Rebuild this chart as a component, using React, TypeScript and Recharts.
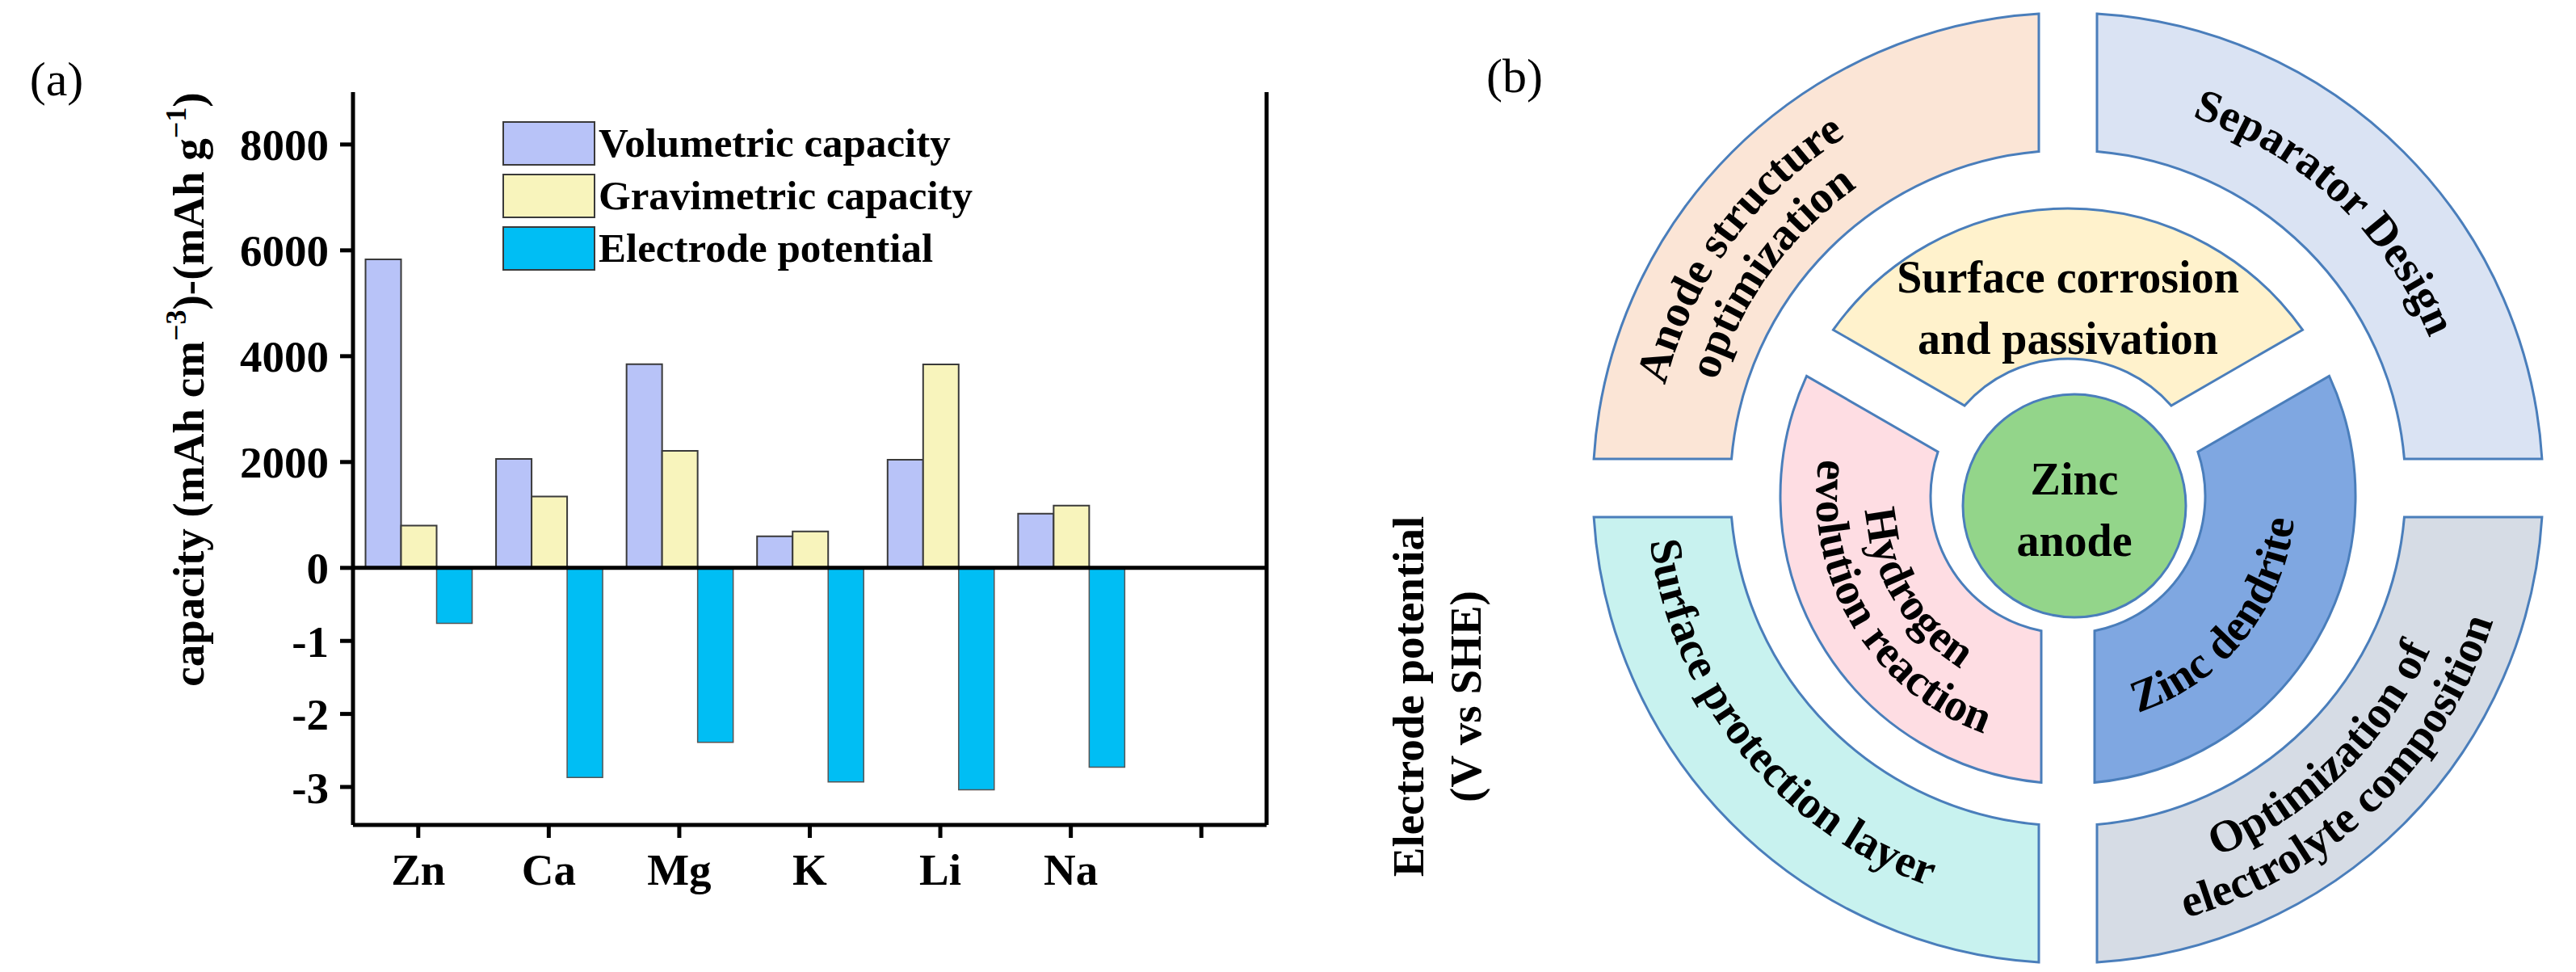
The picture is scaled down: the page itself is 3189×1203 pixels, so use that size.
import {
  Bar,
  BarChart,
  Cell,
  Customized,
  Legend,
  Pie,
  PieChart,
  ReferenceLine,
  XAxis,
  YAxis,
} from "recharts";

const SERIF = '"Liberation Serif", "Times New Roman", Times, serif';

// ---- (a) capacity / potential of metal anodes ----
const metals = ["Zn", "Ca", "Mg", "K", "Li", "Na", ""];
const volumetricCapacity = [5830, 2060, 3850, 595, 2045, 1025];
const gravimetricCapacity = [800, 1350, 2210, 690, 3845, 1175];
const electrodePotential = [-0.76, -2.87, -2.39, -2.93, -3.04, -2.73];
const capacityTicks = [8000, 6000, 4000, 2000, 0];
const potentialTicks = [-1, -2, -3];
const seriesNames = ["Volumetric capacity", "Gravimetric capacity", "Electrode potential"];

// potential bars share the capacity axis: 1 V is drawn as tall as this many mAh
const CAP_PER_VOLT = 1380;

const barData = metals.map((metal, i) => ({
  metal,
  vol: volumetricCapacity[i] ?? null,
  grav: gravimetricCapacity[i] ?? null,
  pot: electrodePotential[i] != null ? electrodePotential[i] * CAP_PER_VOLT : null,
}));

// ---- (b) zinc anode issues / strategies ----
const outerTopics = [
  ["Separator Design"],
  ["Anode structure", "optimization"],
  ["Surface protection layer"],
  ["Optimization of", "electrolyte composition"],
];
const outerShare = [1, 1, 1, 1];
const innerTopics = [
  ["Surface corrosion", "and passivation"],
  ["Hydrogen", "evolution reaction"],
  ["Zinc dendrite"],
];
const innerShare = [1, 1, 1];
const coreTopic = [["Zinc", "anode"]];

const outerData = outerTopics.map((lines, i) => ({ name: lines.join(" "), lines, share: outerShare[i] }));
const innerData = innerTopics.map((lines, i) => ({ name: lines.join(" "), lines, share: innerShare[i] }));
const coreData = coreTopic.map((lines) => ({ name: lines.join(" "), lines, share: 1 }));

const OUTER_COLORS = ["#dae3f3", "#fbe5d6", "#c8f2ef", "#d6dce5"];
const INNER_COLORS = ["#fff2cc", "#fedde3", "#7fa7e1"];
const CORE_COLOR = "#93d58a";
const RING_STROKE = "#4a7ebb";

// small angular nudges so the curved labels sit where the original put them
const OUTER_NUDGE = [2, 9, -6, -1];
const INNER_NUDGE = [0, 1, -9];

const OUTER_PAD = 8;
const INNER_PAD = 12;

const AXIS_LINE = { stroke: "#000", strokeWidth: 5 };
const AXIS_FS = 55;
const TICK_STYLE = { fontSize: AXIS_FS, fontWeight: 700, fill: "#000", fontFamily: SERIF };
const B_FS = 56;
const RAD = Math.PI / 180;

const yTicks = [...capacityTicks, ...potentialTicks.map((v) => v * CAP_PER_VOLT)];
const formatY = (v: number) => (v >= 0 ? String(v) : String(Math.round(v / CAP_PER_VOLT)));
const Y_DOMAIN = [-3.52 * CAP_PER_VOLT, 8990];

const LeftTitle = (props: any) => {
  const { x, y } = props.viewBox;
  const tx = x + 252;
  const ty = y + 368;
  return (
    <text
      x={tx}
      y={ty}
      transform={`rotate(-90 ${tx} ${ty})`}
      textAnchor="middle"
      style={{ fontSize: AXIS_FS, fontWeight: 700, fontFamily: SERIF, fill: "#000" }}
    >
      capacity (mAh cm
      <tspan dy={-22} fontSize={36}>−3</tspan>
      <tspan dy={22}>)-(mAh g</tspan>
      <tspan dy={-22} fontSize={36}>−1</tspan>
      <tspan dy={22}>)</tspan>
    </text>
  );
};

const RightTitle = (props: any) => {
  const { x, y } = props.viewBox;
  const cy = y + 748;
  const x1 = x + 194;
  const x2 = x + 265;
  const st = { fontSize: AXIS_FS, fontWeight: 700, fontFamily: SERIF, fill: "#000" };
  return (
    <g>
      <text x={x1} y={cy} transform={`rotate(-90 ${x1} ${cy})`} textAnchor="middle" style={st}>
        Electrode potential
      </text>
      <text x={x2} y={cy} transform={`rotate(-90 ${x2} ${cy})`} textAnchor="middle" style={st}>
        (V vs SHE)
      </text>
    </g>
  );
};

const LegendBox = ({ payload }: any) => {
  const items = [...(payload ?? [])].sort(
    (a: any, b: any) => seriesNames.indexOf(a.value) - seriesNames.indexOf(b.value)
  );
  return (
    <div>
      {items.map((item: any) => (
        <div key={item.value} style={{ display: "flex", alignItems: "center", height: 55, marginBottom: 10 }}>
          <span
            style={{
              width: 115,
              height: 55,
              background: item.color,
              border: "2px solid #3a3a3a",
              boxSizing: "border-box",
              display: "inline-block",
            }}
          />
          <span
            style={{
              marginLeft: 4,
              fontSize: 51,
              fontWeight: 700,
              fontFamily: SERIF,
              lineHeight: 1,
              color: "#000",
              whiteSpace: "nowrap",
            }}
          >
            {item.value}
          </span>
        </div>
      ))}
    </div>
  );
};

const PanelTag = ({ x, y, text }: any) => (
  <text x={x} y={y} textAnchor="middle" style={{ fontSize: 60, fontFamily: SERIF, fill: "#000" }}>
    {text}
  </text>
);

// annular sector whose separating gaps are parallel bands, not wedges
function ringSectorPath(cx: number, cy: number, r0: number, r1: number, a0: number, a1: number, g: number) {
  const pt = (r: number, a: number, side: number) => {
    const t = Math.sqrt(Math.max(r * r - g * g, 0));
    const n = a + side * 90;
    return [cx + t * Math.cos(a * RAD) + g * Math.cos(n * RAD), cy - t * Math.sin(a * RAD) - g * Math.sin(n * RAD)];
  };
  const f = (p: number[]) => `${p[0].toFixed(2)},${p[1].toFixed(2)}`;
  const p1 = pt(r1, a0, 1);
  const p2 = pt(r1, a1, -1);
  const p3 = pt(r0, a1, -1);
  const p4 = pt(r0, a0, 1);
  const span = a1 - a0;
  const big1 = span - (2 * Math.asin(Math.min(g / r1, 1))) / RAD > 180 ? 1 : 0;
  const big0 = span - (2 * Math.asin(Math.min(g / r0, 1))) / RAD > 180 ? 1 : 0;
  return `M${f(p1)}A${r1},${r1} 0 ${big1} 0 ${f(p2)}L${f(p3)}A${r0},${r0} 0 ${big0} 1 ${f(p4)}Z`;
}

const makeRingShape = (pad: number, gap: number) => (props: any) => {
  const { cx, cy, innerRadius, outerRadius, startAngle, endAngle, fill } = props;
  const a0 = Math.min(startAngle, endAngle) - pad / 2;
  const a1 = Math.max(startAngle, endAngle) + pad / 2;
  return (
    <path
      d={ringSectorPath(cx, cy, innerRadius, outerRadius, a0, a1, gap)}
      fill={fill}
      stroke={RING_STROKE}
      strokeWidth={3}
    />
  );
};

const coreShape = (props: any) => (
  <circle cx={props.cx} cy={props.cy} r={props.outerRadius} fill={CORE_COLOR} stroke={RING_STROKE} strokeWidth={3} />
);

const arcD = (cx: number, cy: number, r: number, c: number, outward: boolean) => {
  const half = 85;
  const aS = outward ? c + half : c - half;
  const aE = outward ? c - half : c + half;
  const P = (a: number) => `${(cx + r * Math.cos(a * RAD)).toFixed(2)},${(cy - r * Math.sin(a * RAD)).toFixed(2)}`;
  return `M${P(aS)}A${r},${r} 0 0 ${outward ? 1 : 0} ${P(aE)}`;
};

const TEXT_B = { fontSize: B_FS, fontWeight: 700, fontFamily: SERIF, fill: "#000" };

const makeRingLabel = (ring: string, nudges: number[]) => (props: any) => {
  const { cx, cy, innerRadius, outerRadius, midAngle, index } = props;
  const lines: string[] = props.payload?.lines ?? props.lines ?? [];
  const mid = (innerRadius + outerRadius) / 2;
  if (ring === "inner" && Math.abs(midAngle - 90) < 1) {
    const yc = cy - (mid - 30);
    return (
      <g>
        {lines.map((line, k) => (
          <text
            key={k}
            x={cx}
            y={yc + (k - (lines.length - 1) / 2) * 76}
            textAnchor="middle"
            dominantBaseline="central"
            style={TEXT_B}
          >
            {line}
          </text>
        ))}
      </g>
    );
  }
  const outward = Math.sin(midAngle * RAD) > 0;
  const c = midAngle + (nudges[index] ?? 0);
  return (
    <g>
      {lines.map((line, k) => {
        const shift = ((lines.length - 1) / 2 - k) * 60;
        const rc = outward ? mid + shift : mid - shift;
        const rb = outward ? rc - B_FS * 0.33 : rc + B_FS * 0.33;
        const id = `${ring}-label-${index}-${k}`;
        return (
          <g key={k}>
            <defs>
              <path id={id} d={arcD(cx, cy, rb, c, outward)} fill="none" />
            </defs>
            <text style={TEXT_B}>
              <textPath href={`#${id}`} startOffset="50%" textAnchor="middle">
                {line}
              </textPath>
            </text>
          </g>
        );
      })}
    </g>
  );
};

const coreLabel = (props: any) => {
  const { cx, cy } = props;
  const lines: string[] = props.payload?.lines ?? props.lines ?? [];
  return (
    <g>
      {lines.map((line, k) => (
        <text
          key={k}
          x={cx}
          y={cy + 5 + (k - (lines.length - 1) / 2) * 76}
          textAnchor="middle"
          dominantBaseline="central"
          style={TEXT_B}
        >
          {line}
        </text>
      ))}
    </g>
  );
};

export default function App() {
  return (
    <div style={{ position: "absolute", left: 0, top: 0, width: 3189, height: 1203, background: "#fff" }}>
      <div style={{ position: "absolute", left: 0, top: 0 }}>
        <BarChart
          width={1900}
          height={1203}
          data={barData}
          margin={{ top: 114, right: 0, bottom: 0, left: 0 }}
          barCategoryGap="9.6%"
          barGap={0}
        >
          <XAxis
            dataKey="metal"
            height={182}
            interval={0}
            tickSize={16}
            tickMargin={19}
            axisLine={AXIS_LINE}
            tickLine={AXIS_LINE}
            tick={TICK_STYLE}
          />
          <XAxis
            xAxisId="top"
            dataKey="metal"
            orientation="top"
            height={0}
            tick={false}
            tickLine={false}
            axisLine={AXIS_LINE}
          />
          <YAxis
            yAxisId="left"
            type="number"
            width={437}
            domain={Y_DOMAIN}
            ticks={yTicks}
            interval={0}
            tickFormatter={formatY}
            tickSize={16}
            tickMargin={14}
            axisLine={AXIS_LINE}
            tickLine={AXIS_LINE}
            tick={TICK_STYLE}
            label={<LeftTitle />}
          />
          <YAxis
            yAxisId="right"
            orientation="right"
            type="number"
            width={332}
            domain={Y_DOMAIN}
            ticks={yTicks}
            interval={0}
            tickFormatter={formatY}
            tickSize={16}
            tickMargin={14}
            axisLine={AXIS_LINE}
            tickLine={AXIS_LINE}
            tick={TICK_STYLE}
            label={<RightTitle />}
          />
          <Bar yAxisId="left" dataKey="vol" name={seriesNames[0]} fill="#b8c3f8" stroke="#3a3a3a" strokeWidth={2} isAnimationActive={false} />
          <Bar yAxisId="left" dataKey="grav" name={seriesNames[1]} fill="#f8f4bc" stroke="#3a3a3a" strokeWidth={2} isAnimationActive={false} />
          <Bar yAxisId="left" dataKey="pot" name={seriesNames[2]} fill="#00bef4" stroke="#555" strokeWidth={1.5} isAnimationActive={false} />
          <ReferenceLine yAxisId="left" y={0} stroke="#000" strokeWidth={5} />
          <Legend
            layout="vertical"
            align="center"
            verticalAlign="middle"
            wrapperStyle={{ left: 622, top: 150, width: 700 }}
            content={<LegendBox />}
          />
          <Customized component={<PanelTag x={70} y={118} text="(a)" />} />
        </BarChart>
      </div>
      <div style={{ position: "absolute", left: 1800, top: 0 }}>
        <PieChart width={1389} height={1203} margin={{ top: 0, right: 0, bottom: 0, left: 0 }}>
          <Pie
            data={outerData}
            dataKey="share"
            nameKey="name"
            cx={760}
            cy={604}
            innerRadius={418}
            outerRadius={588}
            startAngle={OUTER_PAD / 2}
            endAngle={360 + OUTER_PAD / 2}
            paddingAngle={OUTER_PAD}
            stroke={RING_STROKE}
            strokeWidth={3}
            shape={makeRingShape(OUTER_PAD, 36)}
            label={makeRingLabel("outer", OUTER_NUDGE)}
            labelLine={false}
            isAnimationActive={false}
          >
            {outerData.map((d, i) => (
              <Cell key={d.name} fill={OUTER_COLORS[i]} />
            ))}
          </Pie>
          <Pie
            data={innerData}
            dataKey="share"
            nameKey="name"
            cx={760}
            cy={614}
            innerRadius={170}
            outerRadius={356}
            startAngle={30 + INNER_PAD / 2}
            endAngle={390 + INNER_PAD / 2}
            paddingAngle={INNER_PAD}
            stroke={RING_STROKE}
            strokeWidth={3}
            shape={makeRingShape(INNER_PAD, 33)}
            label={makeRingLabel("inner", INNER_NUDGE)}
            labelLine={false}
            isAnimationActive={false}
          >
            {innerData.map((d, i) => (
              <Cell key={d.name} fill={INNER_COLORS[i]} />
            ))}
          </Pie>
          <Pie
            data={coreData}
            dataKey="share"
            nameKey="name"
            cx={768}
            cy={626}
            innerRadius={0}
            outerRadius={138}
            fill={CORE_COLOR}
            stroke={RING_STROKE}
            strokeWidth={3}
            shape={coreShape}
            label={coreLabel}
            labelLine={false}
            isAnimationActive={false}
          />
          <Customized component={<PanelTag x={75} y={114} text="(b)" />} />
        </PieChart>
      </div>
    </div>
  );
}
